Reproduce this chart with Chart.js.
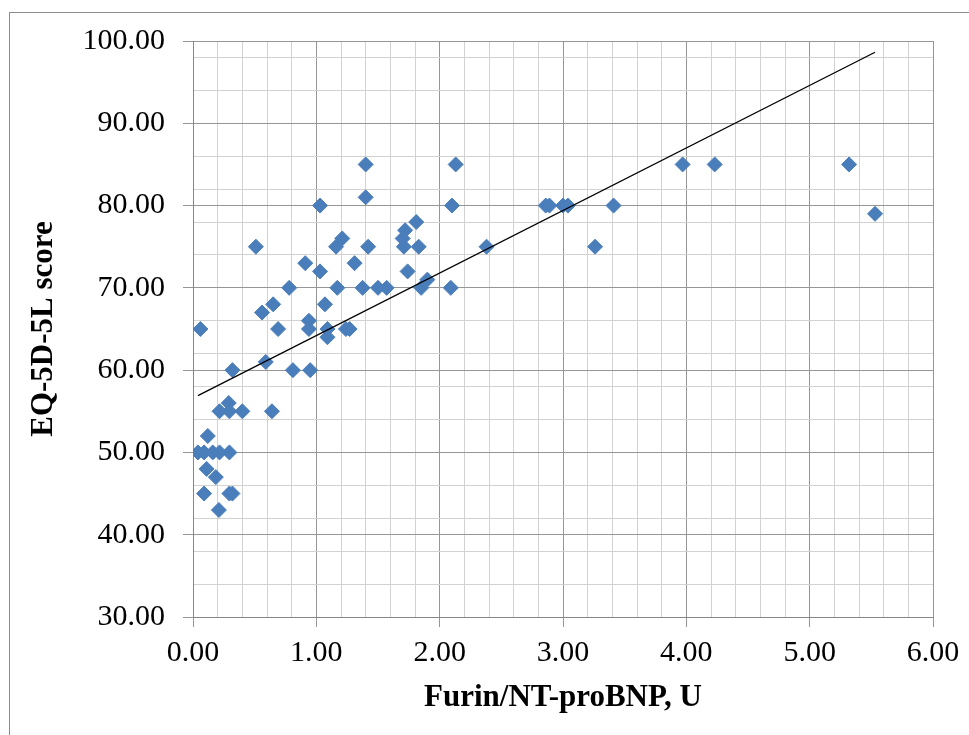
<!DOCTYPE html>
<html>
<head>
<meta charset="utf-8">
<script src="https://cdn.jsdelivr.net/npm/chart.js@4.4.1/dist/chart.umd.min.js"></script>
<style>
    html, body { margin: 0; padding: 0; background: #fff; }
    #wrap { position: relative; width: 969px; height: 735px; }
</style>
</head>
<body>
<div id="wrap"><canvas id="scatterChart"></canvas></div>
<script>
        const furinRatio = [
            0.06, 0.04, 0.09, 0.16, 0.215, 0.295, 0.12, 0.11, 0.185, 0.09,
            0.295, 0.32, 0.21, 0.215, 0.29, 0.295, 0.40, 0.64, 0.32, 0.59,
            0.51, 0.56, 0.65, 0.69, 0.78, 0.81, 0.91, 0.94, 0.94, 0.95,
            1.03, 1.03, 1.07, 1.09, 1.09, 1.16, 1.17, 1.21, 1.24, 1.27,
            1.31, 1.375, 1.40, 1.40, 1.42, 1.50, 1.57, 1.70, 1.71, 1.72,
            1.74, 1.81, 1.83, 1.85, 1.90, 2.09, 2.10, 2.13, 2.38, 2.86,
            2.89, 3.00, 3.04, 3.26, 3.41, 3.97, 4.23, 5.32, 5.53
        ];
        const eqScore = [
            65, 50, 50, 50, 50, 50, 52, 48, 47, 45,
            45, 45, 43, 55, 56, 55, 55, 55, 60, 61,
            75, 67, 68, 65, 70, 60, 73, 66, 65, 60,
            80, 72, 68, 65, 64, 75, 70, 76, 65, 65,
            73, 70, 85, 81, 75, 70, 70, 76, 75, 77,
            72, 78, 75, 70, 71, 70, 80, 85, 75, 80,
            80, 80, 80, 75, 80, 85, 85, 85, 79
        ];
        // trendline coefficients (y = a + b*x)
        const trendIntercept = 56.6;
        const trendSlope = 7.6;
        const xRange = [0, 6];
        const yRange = [30, 100];
        const xTitle = 'Furin/NT-proBNP, U';
        const yTitle = 'EQ-5D-5L score';

        const points = furinRatio.map((x, i) => ({ x: x, y: eqScore[i] }));

        // the trendline spans the data, like Excel's
        const xMin = Math.min(...furinRatio);
        const xMax = Math.max(...furinRatio);
        const trend = [
            { x: xMin, y: trendIntercept + trendSlope * xMin },
            { x: xMax, y: trendIntercept + trendSlope * xMax }
        ];

        const MAJOR = '#969696';
        const MINOR = '#d2d2d2';
        const NONE = 'rgba(0,0,0,0)';
        const isWhole = (v, step) => Math.abs(v / step - Math.round(v / step)) < 1e-6;

        const frame = {
            id: 'frame',
            beforeDraw(chart) {
                const ctx = chart.ctx;
                ctx.save();
                ctx.fillStyle = '#fff';
                ctx.fillRect(0, 0, chart.width, chart.height);
                ctx.strokeStyle = '#8c8c8c';
                ctx.lineWidth = 1;
                ctx.strokeRect(9.5, 12.5, chart.width + 20, chart.height + 20);
                ctx.restore();
            }
        };

        Chart.defaults.font.family = "'Liberation Serif', 'Times New Roman', serif";
        Chart.defaults.color = '#000';

        const scatterChart = new Chart(document.getElementById('scatterChart'), {
            type: 'scatter',
            data: {
                datasets: [
                    {
                        type: 'line',
                        data: trend,
                        borderColor: '#000',
                        borderWidth: 1.3,
                        pointRadius: 0,
                        fill: false,
                        order: 0
                    },
                    {
                        data: points,
                        pointStyle: 'rectRot',
                        pointRadius: 7.5,
                        backgroundColor: '#4a7ebb',
                        borderColor: '#4a7ebb',
                        borderWidth: 1,
                        order: 1
                    }
                ]
            },
            options: {
                responsive: true,
                maintainAspectRatio: false,
                animation: false,
                events: [],
                layout: { padding: { left: 0, top: 41, right: 36, bottom: 0 } },
                plugins: {
                    legend: { display: false },
                    tooltip: { enabled: false }
                },
                scales: {
                    x: {
                        type: 'linear',
                        min: xRange[0],
                        max: xRange[1],
                        afterFit: (scale) => { scale.height = 118; },
                        border: { color: '#868686' },
                        grid: {
                            color: (c) => isWhole(c.tick.value, 1) ? MAJOR : MINOR,
                            tickColor: (c) => isWhole(c.tick.value, 1) ? MAJOR : NONE,
                            tickLength: 10
                        },
                        ticks: {
                            stepSize: 0.2,
                            maxTicksLimit: 100,
                            autoSkip: false,
                            maxRotation: 0,
                            padding: 8,
                            font: { size: 30 },
                            callback: (v) => isWhole(v, 1) ? Number(v).toFixed(2) : ''
                        },
                        title: {
                            display: true,
                            text: xTitle,
                            font: { size: 31, weight: 'bold' },
                            padding: { top: 0, bottom: 18 }
                        }
                    },
                    y: {
                        type: 'linear',
                        min: yRange[0],
                        max: yRange[1],
                        afterFit: (scale) => { scale.width = 193; },
                        border: { color: '#868686' },
                        grid: {
                            color: (c) => {
                                const v = c.tick.value;
                                if (isWhole(v, 10)) return MAJOR;
                                if (isWhole(v - yRange[0], 4)) return MINOR;
                                return NONE;
                            },
                            tickColor: (c) => isWhole(c.tick.value, 10) ? MAJOR : NONE,
                            tickLength: 10
                        },
                        ticks: {
                            stepSize: 2,
                            maxTicksLimit: 100,
                            autoSkip: false,
                            padding: 18,
                            font: { size: 30 },
                            callback: (v) => isWhole(v, 10) ? Number(v).toFixed(2) : ''
                        },
                        title: {
                            display: true,
                            text: yTitle,
                            font: { size: 31, weight: 'bold' },
                            padding: { top: 25, bottom: 0 }
                        }
                    }
                }
            },
            plugins: [frame]
        });
</script>
</body>
</html>
